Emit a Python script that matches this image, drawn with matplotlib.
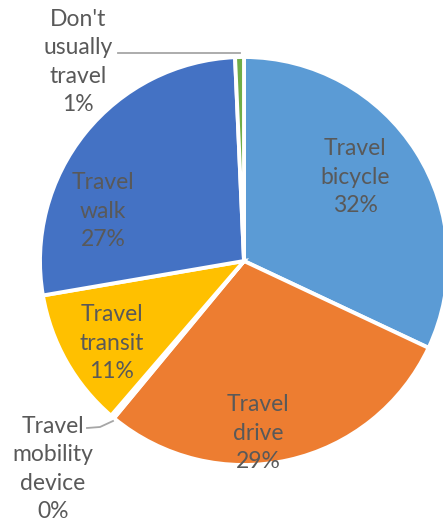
import matplotlib.pyplot as plt

categories = ['Travel bicycle', 'Travel drive', 'Travel mobility device',
              'Travel transit', 'Travel walk', "Don't usually travel"]
shares = [32.0, 29.0, 0.3, 11.0, 27.0, 0.7]
label_lines = ['Travel\nbicycle', 'Travel\ndrive', 'Travel\nmobility\ndevice',
               'Travel\ntransit', 'Travel\nwalk', "Don't\nusually\ntravel"]
colors = ['#5B9BD5', '#ED7D31', '#A5A5A5', '#FFC000', '#4472C4', '#70AD47']

W, H = 443, 525
fig = plt.figure(figsize=(W / 100, H / 100), dpi=100)
ax = fig.add_axes([0, 0, 1, 1])

cx, cy, r = 244, H - 261, 204
ax.pie(shares, colors=colors, startangle=90, counterclock=False,
       center=(cx, cy), radius=r,
       wedgeprops=dict(edgecolor='white', linewidth=2.8))

ax.set_xlim(0, W)
ax.set_ylim(0, H)
ax.set_aspect('equal')
ax.axis('off')

# label placement in pixel coords (from top)
label_pos = [(355, 177), (258, 433), (53, 469), (112, 343), (103, 211), (78, 62)]
txt = '#595959'
for name, val, (x, y) in zip(label_lines, shares, label_pos):
    ax.text(x, H - y, f'{name}\n{round(val):.0f}%', ha='center', va='center',
            color=txt, fontsize=16.5, family='Lato', linespacing=1.45)

# leader lines
ax.plot([118, 240], [H - 53, H - 53], color='#A6A6A6', lw=1.3)
ax.plot([87, 100, 113], [H - 428, H - 427, H - 421], color='#A6A6A6', lw=1.3)

fig.savefig('out.png', dpi=100)
